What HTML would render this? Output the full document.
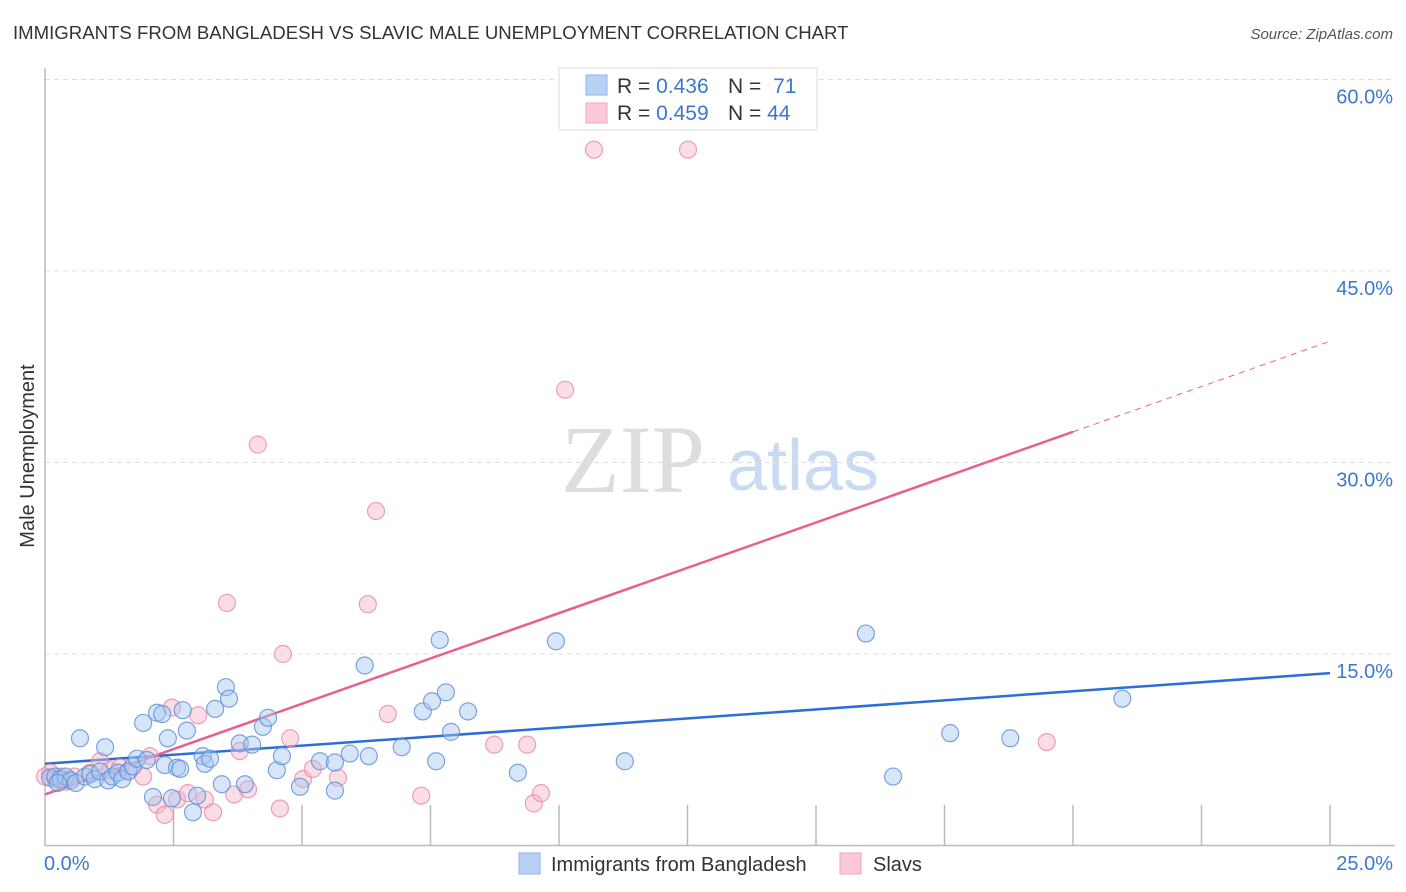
<!DOCTYPE html>
<html><head><meta charset="utf-8"><style>
body{margin:0;background:#fff;font-family:"Liberation Sans",sans-serif;}
svg{display:block}
</style></head><body>
<svg id="chart" width="1406" height="892">
<text x="13" y="39" font-size="18.6" fill="#333">IMMIGRANTS FROM BANGLADESH VS SLAVIC MALE UNEMPLOYMENT CORRELATION CHART</text>
<text x="1393" y="39" font-size="15" fill="#555" font-style="italic" text-anchor="end">Source: ZipAtlas.com</text>
<text x="0" y="0" transform="translate(34,456) rotate(-90)" font-size="20" fill="#333" text-anchor="middle">Male Unemployment</text>
<g>
<text x="633" y="492" font-size="96" font-family="Liberation Serif,serif" fill="#ddd" text-anchor="middle">ZIP</text>
<text x="803" y="490" font-size="72" fill="#c8dbf3" text-anchor="middle">atlas</text>
</g>
<g id="grid"></g><g id="axes"></g><g id="lines"></g><g id="pts"></g>
<g>
<rect x="559" y="68" width="258" height="62" fill="#fff" stroke="#ddd"/>
<rect x="586" y="75" width="21" height="20" fill="#b7d0f3" stroke="#8fb3e6"/>
<rect x="586" y="103" width="21" height="20" fill="#fbc9d7" stroke="#f0a5bd"/>
<text x="617" y="93" font-size="21" fill="#333">R = <tspan fill="#3a78d0">0.436</tspan></text>
<text x="728" y="93" font-size="21" fill="#333">N = <tspan fill="#3a78d0" dx="6">71</tspan></text>
<text x="617" y="120" font-size="21" fill="#333">R = <tspan fill="#3a78d0">0.459</tspan></text>
<text x="728" y="120" font-size="21" fill="#333">N = <tspan fill="#3a78d0">44</tspan></text>
</g>
<g>
<rect x="519" y="853" width="21" height="21" fill="#b7d0f3" stroke="#8fb3e6"/>
<text x="551" y="871" font-size="20" fill="#333">Immigrants from Bangladesh</text>
<rect x="840" y="853" width="21" height="21" fill="#fbc9d7" stroke="#f0a5bd"/>
<text x="873" y="871" font-size="20" fill="#333">Slavs</text>
</g>
</svg>
<script>
const yTicks=[15,30,45,60];
const yTickLabels=["15.0%","30.0%","45.0%","60.0%"];
const xTickLabels=["0.0%","25.0%"];
const blueX=[0.1,0.2,0.3,0.4,0.5,0.6,0.68,0.78,0.88,0.97,1.07,1.17,1.23,1.31,1.42,1.5,1.62,1.71,1.79,1.91,1.98,2.1,2.18,2.28,2.33,2.39,2.47,2.57,2.63,2.68,2.76,2.88,2.96,3.07,3.11,3.21,3.31,3.44,3.52,3.58,3.79,3.89,4.03,4.24,4.34,4.51,4.61,4.96,5.35,5.64,5.64,5.93,6.22,6.3,6.94,7.35,7.53,7.61,7.68,7.8,7.9,8.23,9.2,9.94,11.28,15.97,16.5,17.61,18.78,20.96,0.25];
const blueY=[5.3,5.4,5.2,5.4,5.1,4.9,8.4,5.4,5.6,5.2,5.8,7.7,5.1,5.4,5.7,5.2,5.8,6.2,6.8,9.6,6.7,3.8,10.4,10.3,6.3,8.4,3.7,6.1,6.0,10.6,9.0,2.6,3.9,7.0,6.4,6.8,10.7,4.8,12.4,11.5,8.0,4.8,7.9,9.3,10.0,5.9,7.0,4.6,6.6,4.3,6.5,7.2,14.1,7.0,7.7,10.5,11.3,6.6,16.1,12.0,8.9,10.5,5.7,16.0,6.6,16.6,5.4,8.8,8.4,11.5,4.9];
const pinkX=[0.1,0.2,0.3,0.4,0.58,0.88,1.07,1.26,1.46,1.65,1.91,2.04,2.18,2.33,2.47,2.57,2.78,2.98,3.11,3.27,3.54,3.68,3.79,3.95,4.14,4.57,4.63,4.77,5.02,5.21,5.7,6.28,6.44,6.67,7.32,8.74,9.38,9.51,9.65,10.12,10.68,12.51,19.49,0.0];
const pinkY=[5.7,5.2,5.4,5.0,5.4,5.7,6.6,5.9,6.1,5.9,5.4,7.0,3.2,2.4,10.8,3.6,4.1,10.2,3.6,2.6,19.0,4.0,7.4,4.4,31.4,2.9,15.0,8.4,5.2,6.0,5.3,18.9,26.2,10.3,3.9,7.9,7.9,3.3,4.1,35.7,54.5,54.5,8.1,5.4];
const blueFit=[6.4,13.5];
const pinkFit=[4.0,32.4,39.5];
const NS="http://www.w3.org/2000/svg";
const X0=45,X1=1330,Y0=845.5,YS=191.5/15;
const sx=v=>X0+v/25*(X1-X0), sy=v=>Y0-v*YS;
function mk(tag,attrs,parent){const e=document.createElementNS(NS,tag);for(const k in attrs)e.setAttribute(k,attrs[k]);document.getElementById(parent).appendChild(e);return e;}
yTicks.forEach((t,i)=>{
 const g=mk('line',{x1:X0,x2:1395,y1:sy(t),y2:sy(t),stroke:'#ddd','stroke-dasharray':'5,4'},'grid');
 
 
 const l=mk('text',{x:1393,y:sy(t)+24,'font-size':20,fill:'#3a78d0','text-anchor':'end'},'grid');
 l.textContent=yTickLabels[i];
 
 
});
const ax=mk('path',{d:`M${X0},68V${Y0}H1395`,stroke:'#bbb',fill:'none','stroke-width':1.5},'axes');


for(let i=1;i<=10;i++){const t=mk('line',{x1:sx(i*2.5),x2:sx(i*2.5),y1:805,y2:Y0,stroke:'#bbb','stroke-width':1.5},'axes');
 
 }
const xl0=mk('text',{x:44,y:870,'font-size':20,fill:'#3a78d0'},'axes');xl0.textContent=xTickLabels[0];


const xl1=mk('text',{x:1393,y:870,'font-size':20,fill:'#3a78d0','text-anchor':'end'},'axes');xl1.textContent=xTickLabels[1];


function dots(xs,ys,fill,stroke,name){xs.forEach((x,i)=>{const c=mk('circle',{cx:sx(x),cy:sy(ys[i]),r:8.5,fill:fill,'fill-opacity':0.45,stroke:stroke,'stroke-width':1.2,'stroke-opacity':0.8},'pts');
 
 });}
dots(pinkX,pinkY,'#f7b3c8','#e88aa8','slavs-point');
dots(blueX,blueY,'#a6c6f0','#5a8fd8','bangladesh-point');
const bl=mk('line',{x1:sx(0),y1:sy(blueFit[0]),x2:sx(25),y2:sy(blueFit[1]),stroke:'#2a6fd6','stroke-width':2.5},'lines');


const pl=mk('line',{x1:sx(0),y1:sy(pinkFit[0]),x2:sx(20),y2:sy(pinkFit[1]),stroke:'#e8608f','stroke-width':2.5},'lines');


const pd=mk('line',{x1:sx(20),y1:sy(pinkFit[1]),x2:sx(25),y2:sy(pinkFit[2]),stroke:'#e8608f','stroke-width':1,'stroke-dasharray':'6,5'},'lines');


</script>
</body></html>
